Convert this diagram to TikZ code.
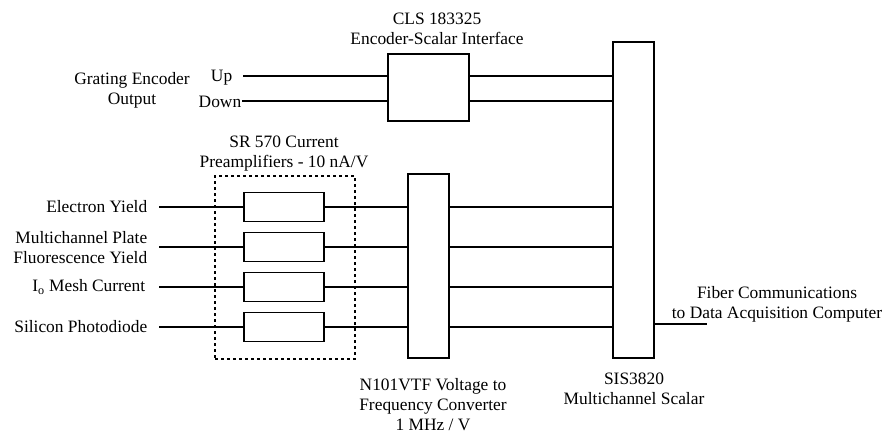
\documentclass[tikz,border=0pt]{standalone}
\usepackage{fontspec}
\setmainfont{Liberation Serif}
\begin{document}
\begin{tikzpicture}[x=1pt,y=-1pt,line width=1.5pt,
  blk/.style={draw,minimum width=#1,inner sep=0pt},
  lbl/.style={inner sep=0pt,font=\fontsize{17.4}{20}\selectfont,align=center},
  rlbl/.style={lbl,align=right,anchor=east}]
\useasboundingbox (0,0) rectangle (885,434);
% blocks
\node[blk=81pt,minimum height=67pt] (cls) at (428.5,87.5) {};
\node[blk=41pt,minimum height=316pt] (sis) at (633.5,200) {};
\node[blk=41pt,minimum height=184pt] (vf) at (428.5,266) {};
\node[blk=80pt,minimum height=29pt] (p1) at (284,207) {};
\node[blk=80pt,minimum height=29pt] (p2) at (284,247) {};
\node[blk=80pt,minimum height=29pt] (p3) at (284,287) {};
\node[blk=80pt,minimum height=29pt] (p4) at (284,327) {};
\node[draw,dashed,line width=1.2pt,inner sep=0pt,minimum width=140pt,minimum height=183pt] (grp) at (285,267.5) {};
% labels
\node[lbl] (clsl) at (437,28.5) {CLS 183325\\Encoder-Scalar Interface};
\node[lbl] (grat) at (132,90) {Grating Encoder\\Output};
\node[lbl,anchor=east] (up) at (233,77.5) {Up};
\node[lbl,anchor=east] (down) at (242,102) {Down};
\node[lbl] (srl) at (284,154) {SR 570 Current\\Preamplifiers - 10 nA/V};
\node[rlbl] (l1) at (148,207) {Electron Yield};
\node[rlbl] (l2) at (148,248) {Multichannel Plate\\Fluorescence Yield};
\node[rlbl] (l3) at (146,287) {I\textsubscript{o} Mesh Current};
\node[rlbl] (l4) at (148,327) {Silicon Photodiode};
\node[lbl] (vfl) at (433,404.5) {N101VTF Voltage to\\Frequency Converter\\1 MHz / V};
\node[lbl] (sisl) at (634,389) {SIS3820\\Multichannel Scalar};
\node[lbl] (fib) at (777,304) {Fiber Communications\\to Data Acquisition Computer};
% connector ends
\coordinate (upin) at (243,76);
\coordinate (dnin) at (242,101);
\coordinate (i1) at (159,207);
\coordinate (i2) at (159,247);
\coordinate (i3) at (159,287);
\coordinate (i4) at (159,327);
\coordinate (fout) at (707,324);
% connectors
\draw (upin) -- (upin -| cls.west);
\draw (dnin) -- (dnin -| cls.west);
\draw (cls.east |- upin) -- (sis.west |- upin);
\draw (cls.east |- dnin) -- (sis.west |- dnin);
\foreach \i in {1,2,3,4}{
  \draw (i\i) -- (p\i.west);
  \draw (p\i.east) -- (p\i.east -| vf.west);
  \draw (vf.east |- p\i) -- (sis.west |- p\i);
}
\draw (sis.east |- fout) -- (fout);
\end{tikzpicture}
\end{document}
